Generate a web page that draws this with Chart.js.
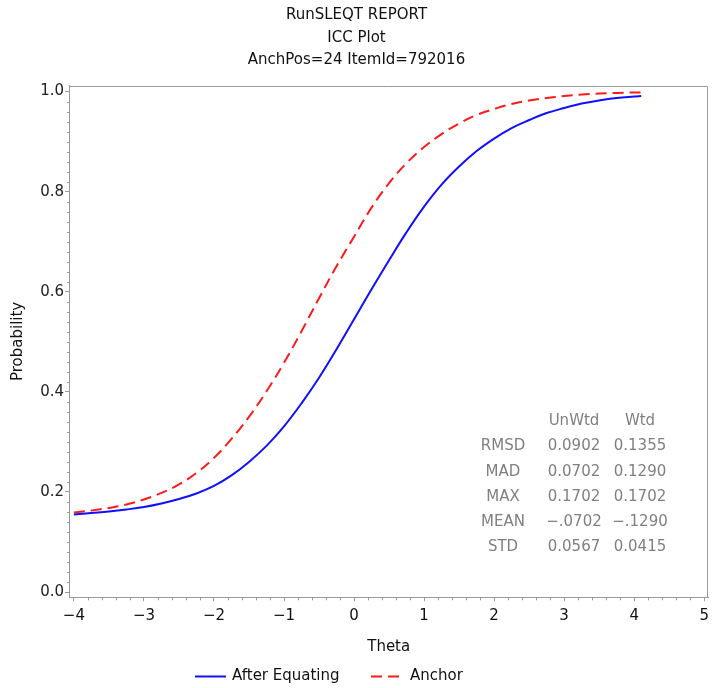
<!DOCTYPE html>
<html><head><meta charset="utf-8">
<script src="https://cdn.jsdelivr.net/npm/chart.js@4/dist/chart.umd.min.js"></script>
<style>html,body{margin:0;padding:0;background:#fff;}canvas{display:block;}</style>
</head><body>
<canvas id="c" width="715" height="688"></canvas>
<script>
const titleLines = ['RunSLEQT REPORT', 'ICC Plot', 'AnchPos=24 ItemId=792016'];
const seriesNames = ['After Equating', 'Anchor'];
const theta = [-4.0,-3.75,-3.5,-3.25,-3.0,-2.75,-2.5,-2.25,-2.0,-1.75,-1.5,-1.25,-1.0,-0.75,-0.5,-0.25,
  0.0,0.25,0.5,0.75,1.0,1.25,1.5,1.75,2.0,2.25,2.5,2.75,3.0,3.25,3.5,3.75,4.0,4.1];
const afterEquating = [0.155,0.158,0.161,0.165,0.170,0.177,0.186,0.197,0.212,0.233,0.260,0.292,0.331,0.377,0.428,0.485,
  0.545,0.605,0.663,0.719,0.770,0.814,0.850,0.881,0.906,0.927,0.943,0.957,0.967,0.976,0.982,0.987,0.990,0.991];
const anchor = [0.159,0.163,0.168,0.175,0.185,0.198,0.215,0.238,0.268,0.306,0.350,0.401,0.458,0.521,0.587,0.651,
  0.710,0.768,0.817,0.857,0.889,0.915,0.936,0.953,0.965,0.975,0.982,0.987,0.991,0.994,0.996,0.997,0.998,0.998];
const xTicks = [-4,-3,-2,-1,0,1,2,3,4,5];
const yTicks = [0,0.2,0.4,0.6,0.8,1.0];
const statHeader = ['UnWtd', 'Wtd'];
const statRows = ['RMSD', 'MAD', 'MAX', 'MEAN', 'STD'];
const statUnWtd = ['0.0902', '0.0702', '0.1702', '\u2212.0702', '0.0567'];
const statWtd = ['0.1355', '0.1290', '0.1702', '\u2212.1290', '0.0415'];

const FONT = 'DejaVu Sans';
const AXIS = '#9a9a9a';

const extras = {
  id: 'extras',
  afterDraw(chart) {
    const {ctx, chartArea: a, scales: {x, y}} = chart;
    ctx.save();
    // frame top/right
    ctx.strokeStyle = AXIS; ctx.lineWidth = 1;
    ctx.beginPath();
    ctx.moveTo(Math.round(a.left) + 0.5, Math.round(a.top) + 0.5);
    ctx.lineTo(Math.round(a.right) - 0.5, Math.round(a.top) + 0.5);
    ctx.lineTo(Math.round(a.right) - 0.5, Math.round(a.bottom));
    ctx.stroke();
    // minor ticks
    ctx.beginPath();
    for (let i = 0; i < xTicks.length - 1; i++) {
      for (let k = 1; k < 5; k++) {
        const px = Math.round(x.getPixelForValue(xTicks[i] + k * 0.2)) + 0.5;
        ctx.moveTo(px, a.bottom); ctx.lineTo(px, a.bottom + 3);
      }
    }
    for (let i = 0; i < yTicks.length - 1; i++) {
      for (let k = 1; k < 10; k++) {
        const py = Math.round(y.getPixelForValue(yTicks[i] + k * 0.02)) + 0.5;
        ctx.moveTo(a.left, py); ctx.lineTo(a.left - 2, py);
      }
    }
    ctx.stroke();
    // stats table
    ctx.fillStyle = '#808080';
    ctx.font = '15px "' + FONT + '"';
    ctx.textAlign = 'center'; ctx.textBaseline = 'middle';
    const c0 = a.left + 434, c1 = a.left + 505, c2 = a.left + 571;
    const r0 = a.top + 336, dr = 25.1;
    ctx.fillText(statHeader[0], c1, r0);
    ctx.fillText(statHeader[1], c2, r0);
    statRows.forEach((r, i) => {
      const yy = r0 + dr * (i + 1);
      ctx.fillText(r, c0, yy);
      ctx.fillText(statUnWtd[i], c1, yy);
      ctx.fillText(statWtd[i], c2, yy);
    });
    // legend
    const ly = 676.5;
    ctx.font = '15px "' + FONT + '"';
    ctx.textAlign = 'left'; ctx.fillStyle = '#111';
    ctx.lineWidth = 2;
    ctx.strokeStyle = chart.data.datasets[0].borderColor;
    ctx.setLineDash([]);
    ctx.beginPath(); ctx.moveTo(195, ly); ctx.lineTo(226, ly); ctx.stroke();
    ctx.fillText(chart.data.datasets[0].label, 232, ly);
    ctx.strokeStyle = chart.data.datasets[1].borderColor;
    ctx.setLineDash([11, 6]);
    ctx.beginPath(); ctx.moveTo(371, ly); ctx.lineTo(404, ly); ctx.stroke();
    ctx.setLineDash([]);
    ctx.fillText(chart.data.datasets[1].label, 410, ly);
    ctx.restore();
  }
};

new Chart(document.getElementById('c'), {
  type: 'line',
  data: {
    datasets: [
      { label: seriesNames[0], data: theta.map((t, i) => ({x: t, y: afterEquating[i]})),
        borderColor: '#1010ff', borderWidth: 2, pointRadius: 0, fill: false, tension: 0.4 },
      { label: seriesNames[1], data: theta.map((t, i) => ({x: t, y: anchor[i]})),
        borderColor: '#ff1a1a', borderWidth: 2, borderDash: [11, 6], pointRadius: 0, fill: false, tension: 0.4 }
    ]
  },
  options: {
    responsive: false, animation: false, devicePixelRatio: 1,
    layout: { padding: { left: 0, right: 2, top: 0, bottom: 0 } },
    plugins: {
      legend: { display: false },
      tooltip: { enabled: false },
      title: { display: true, text: titleLines, color: '#111',
        font: { family: FONT, size: 15, weight: 'normal', lineHeight: 1.5 },
        padding: { top: 4, bottom: 14 } }
    },
    scales: {
      x: {
        type: 'linear', min: -4.07, max: 5.06,
        afterBuildTicks: s => { s.ticks = xTicks.map(v => ({value: v})); },
        afterFit: s => { s.height = 90.7; },
        ticks: { autoSkip: false, maxRotation: 0, padding: 6, color: '#111',
          font: { family: FONT, size: 15 },
          callback: v => (v < 0 ? '\u2212' + Math.abs(v) : String(v)) },
        grid: { display: true, drawOnChartArea: false, drawTicks: true, tickLength: 4, color: AXIS },
        border: { display: true, color: AXIS, width: 1 },
        title: { display: true, text: 'Theta', color: '#111', font: { family: FONT, size: 15 }, padding: { top: 0, bottom: 32 } }
      },
      y: {
        type: 'linear', min: -0.0105, max: 1.012,
        afterBuildTicks: s => { s.ticks = yTicks.map(v => ({value: v})); },
        afterFit: s => { s.width = 69; },
        ticks: { padding: 1, color: '#222', font: { family: FONT, size: 15 },
          callback: v => v.toFixed(1) },
        grid: { display: true, drawOnChartArea: false, drawTicks: true, tickLength: 4, color: AXIS },
        border: { display: true, color: AXIS, width: 1 },
        title: { display: true, text: 'Probability', color: '#111', font: { family: FONT, size: 15 }, padding: { top: 9 } }
      }
    }
  },
  plugins: [extras]
});
</script>
</body></html>
